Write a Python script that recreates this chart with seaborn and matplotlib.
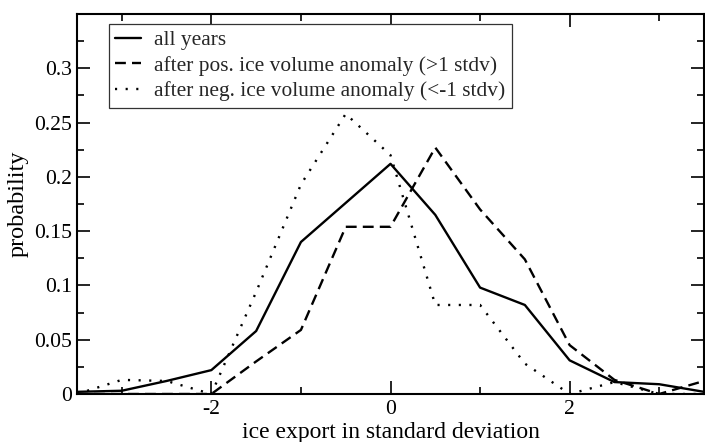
import numpy as np
import pandas as pd
import matplotlib
matplotlib.use("Agg")
import matplotlib.pyplot as plt
from matplotlib.ticker import MultipleLocator, FixedLocator, FuncFormatter
import seaborn as sns

# ---- data ----
x_vals = [-3.5, -3.0, -2.5, -2.0, -1.5, -1.0, -0.5, 0.0, 0.5, 1.0, 1.5, 2.0, 2.5, 3.0, 3.5]
all_years = [0.002, 0.003, 0.012, 0.022, 0.058, 0.140, 0.176, 0.212, 0.165, 0.098, 0.082, 0.031, 0.011, 0.009, 0.002]
after_pos = [0.0, 0.0, 0.0, 0.0, 0.030, 0.059, 0.154, 0.154, 0.227, 0.170, 0.124, 0.045, 0.013, 0.0, 0.012]
after_neg = [0.0, 0.013, 0.012, 0.0, 0.094, 0.193, 0.258, 0.220, 0.082, 0.082, 0.028, 0.0, 0.011, 0.0, 0.0]
labels = ["all years",
          "after pos. ice volume anomaly (>1 stdv)",
          "after neg. ice volume anomaly (<-1 stdv)"]
x_ticks = [-2, 0, 2]
y_ticks = [0, 0.05, 0.1, 0.15, 0.2, 0.25, 0.3]

sns.set_theme(style="ticks")
plt.rcParams["font.family"] = ["Liberation Serif", "DejaVu Serif"]
plt.rcParams["axes.unicode_minus"] = False

fig = plt.figure(figsize=(7.05, 4.42), dpi=100)
ax = fig.add_axes([77 / 705, 1 - 394 / 442, (704 - 77) / 705, (394 - 14) / 442])

lw = 1.7
series = [all_years, after_pos, after_neg]
dashes = [None, (4.6, 2.6), (0.9, 3.6)]
for vals, lab, d in zip(series, labels, dashes):
    df = pd.DataFrame({"x": x_vals, "y": vals})
    sns.lineplot(data=df, x="x", y="y", ax=ax, color="black", linewidth=lw,
                 label=lab, sort=False)
    line = ax.lines[-1]
    if d is not None:
        line.set_dashes(d)
    line.set_dash_capstyle("butt")

ax.set_xlim(-3.5, 3.5)
ax.set_ylim(0, 0.35)
ax.xaxis.set_major_locator(FixedLocator(x_ticks))
ax.xaxis.set_minor_locator(FixedLocator([-3, -1, 1, 3]))
ax.yaxis.set_major_locator(FixedLocator(y_ticks))
ax.yaxis.set_minor_locator(MultipleLocator(0.025))
ax.yaxis.set_major_formatter(FuncFormatter(lambda v, p: "%g" % round(v, 3)))
ax.xaxis.set_major_formatter(FuncFormatter(lambda v, p: "%g" % v))

for s in ax.spines.values():
    s.set_visible(True)
    s.set_linewidth(1.5)
    s.set_color("black")
ax.tick_params(which="both", direction="in", top=True, right=True,
               color="black", labelsize=15.6, labelcolor="black", width=1.2)
ax.tick_params(which="major", length=9.5)
ax.tick_params(which="minor", length=4.8)
ax.tick_params(axis="y", which="major", pad=3.5)
ax.tick_params(axis="x", which="major", pad=4.5)

ax.set_xlabel("ice export in standard deviation", fontsize=17, color="black", labelpad=2)
ax.set_ylabel("probability", fontsize=17.5, color="black", labelpad=4)

leg = ax.legend(loc="upper left", bbox_to_anchor=(0.051, 0.974), fontsize=15.4,
                frameon=True, fancybox=False, framealpha=1, edgecolor="#333333",
                handlelength=1.2, handletextpad=0.6, borderpad=0.3,
                labelspacing=0.26, borderaxespad=0)
leg.get_frame().set_linewidth(0.9)

fig.savefig("out.png", dpi=100)
